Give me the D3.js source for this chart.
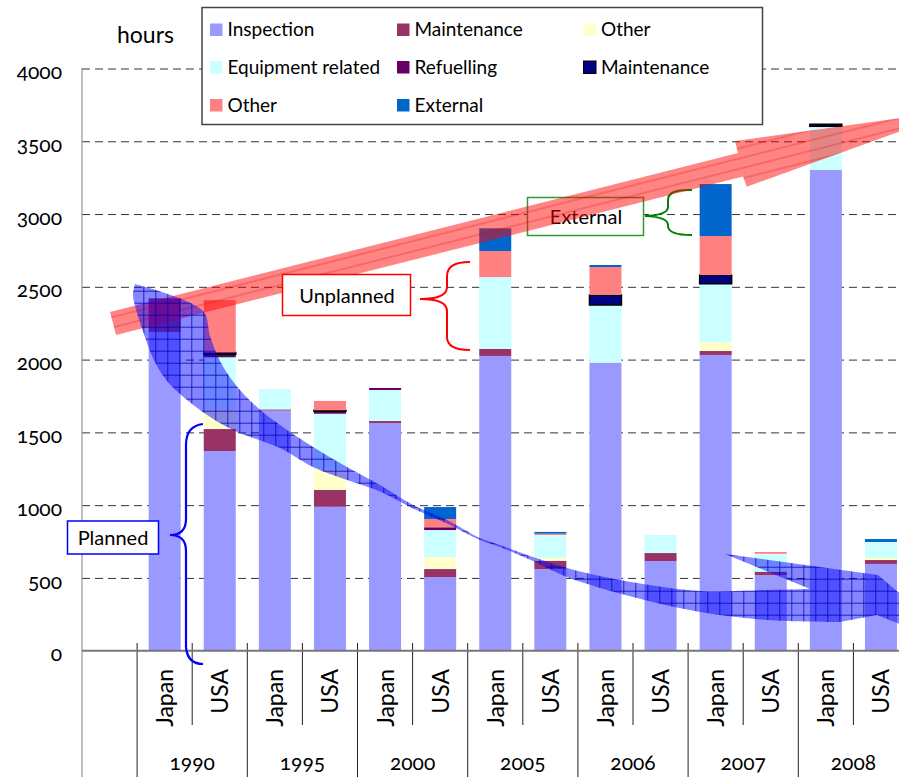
<!DOCTYPE html>
<html>
<head>
<meta charset="utf-8">
<script src="https://cdn.jsdelivr.net/npm/d3@7"></script>
<style>
  html, body { margin: 0; padding: 0; background: #fff; }
  svg { display: block; font-family: Lato, "Open Sans", "Noto Sans", sans-serif; font-variant-numeric: oldstyle-nums; }
</style>
</head>
<body>
<svg id="chart" width="899" height="777"></svg>
<script>
// ---- data -------------------------------------------------------------
const years = ["1990", "1995", "2000", "2005", "2006", "2007", "2008"];
const countries = ["Japan", "USA"];

// hours per outage, one value per (year, country) in the order above
const inspection      = [2190, 1372, 1650,  989, 1564, 506, 2025, 561, 1979, 616, 2032, 520, 3303, 596];
const maintPlanned    = [ 231,  151,    8,  115,   14,  55,   48,  57,    0,  55,   27,  23,    0,  27];
const otherPlanned    = [   0,  138,    0,  144,    0,  83,    0,  19,    0,   0,   62,   0,    0,  14];
const equipment       = [   0,  355,  140,  380,  213, 185,  494, 158,  396, 124,  400, 123,  300, 110];
const refuelling      = [   0,   20,    0,   17,   14,  19,    0,   0,    0,   0,    0,   0,    0,   0];
const maintUnplanned  = [   0,   13,    0,    7,    0,   0,    0,   0,   69,   0,   60,   0,   14,   0];
const otherUnplanned  = [   0,  360,    0,   64,    0,  57,  179,   9,  192,   0,  268,  12,    0,   0];
const external        = [   0,    0,    0,    0,    0,  82,  156,  12,   14,   0,  357,   0,    0,  20];

const yTicks = [0, 500, 1000, 1500, 2000, 2500, 3000, 3500, 4000];

// ---- series setup -----------------------------------------------------
const seriesDefs = [
  { key: "inspection",     label: "Inspection",        color: "#9999ff", values: inspection },
  { key: "maintPlanned",   label: "Maintenance",       color: "#993366", values: maintPlanned },
  { key: "otherPlanned",   label: "Other",             color: "#ffffcc", values: otherPlanned },
  { key: "equipment",      label: "Equipment related", color: "#ccffff", values: equipment },
  { key: "refuelling",     label: "Refuelling",        color: "#660066", values: refuelling },
  { key: "maintUnplanned", label: "Maintenance",       color: "#000080", values: maintUnplanned, outline: true },
  { key: "otherUnplanned", label: "Other",             color: "#ff8080", values: otherUnplanned },
  { key: "external",       label: "External",          color: "#0066cc", values: external }
];

const categories = [];
years.forEach(y => countries.forEach(c => categories.push({ id: y + "|" + c, year: y, country: c })));
const rows = categories.map((c, i) => {
  const r = { id: c.id };
  seriesDefs.forEach(s => { r[s.key] = s.values[i]; });
  return r;
});

// ---- scales ------------------------------------------------------------
const svg = d3.select("#chart");
const slotKeys = ["_blank"].concat(categories.map(c => c.id));
const x = d3.scaleBand().domain(slotKeys).range([82, 908.5]).paddingInner(0).paddingOuter(0);
const y = d3.scaleLinear().domain([0, 4000]).range([650.7, 68.5]);
const barW = 32;
const plotRight = 908.5;

// ---- grid --------------------------------------------------------------
const grid = svg.append("g").attr("transform", "translate(82,0)")
  .call(d3.axisLeft(y).tickValues(yTicks.filter(t => t > 0)).tickSize(-(plotRight - 82)).tickFormat(""));
grid.select(".domain").remove();
grid.selectAll(".tick line").attr("stroke", "#333").attr("stroke-width", 1).attr("stroke-dasharray", "8,5");

// y labels
const yLab = svg.append("g").attr("transform", "translate(82,0)")
  .call(d3.axisLeft(y).tickValues(yTicks).tickFormat(d3.format("d")).tickSize(0).tickPadding(20));
yLab.select(".domain").remove();
yLab.selectAll(".tick text").attr("font-size", 21).attr("font-family", "Lato, sans-serif")
  .attr("fill", "#000").attr("dy", "0.48em");

svg.append("text").attr("x", 117).attr("y", 43).attr("font-size", 23).attr("fill", "#000").text("hours");

// ---- bars --------------------------------------------------------------
const stacked = d3.stack().keys(seriesDefs.map(s => s.key))(rows);
const barLayer = svg.append("g");
stacked.forEach((layer, li) => {
  const def = seriesDefs[li];
  barLayer.append("g").selectAll("rect")
    .data(layer.filter(d => d[1] - d[0] > 0))
    .join("rect")
    .attr("x", d => x(d.data.id) + (x.bandwidth() - barW) / 2)
    .attr("width", barW)
    .attr("y", d => y(d[1]))
    .attr("height", d => y(d[0]) - y(d[1]))
    .attr("fill", def.color)
    .attr("stroke", def.outline ? "#000" : "none")
    .attr("stroke-width", def.outline ? 1.5 : 0);
});

// ---- category axis ----------------------------------------------------
const axisG = svg.append("g");
// separators between countries (short) and between years (long)
categories.forEach(c => {
  const left = x(c.id);
  const bottom = c.country === "USA" ? 725 : 777;
  axisG.append("line").attr("x1", left).attr("x2", left).attr("y1", 643).attr("y2", bottom)
    .attr("stroke", "#222").attr("stroke-width", 1);
});
axisG.append("line").attr("x1", plotRight).attr("x2", plotRight).attr("y1", 643).attr("y2", 777)
  .attr("stroke", "#222");
// y axis line
axisG.append("line").attr("x1", 82).attr("x2", 82).attr("y1", 68).attr("y2", 777)
  .attr("stroke", "#808080").attr("stroke-width", 1);
// baseline
axisG.append("line").attr("x1", 82).attr("x2", plotRight).attr("y1", y(0)).attr("y2", y(0))
  .attr("stroke", "#777").attr("stroke-width", 2);

// country labels
categories.forEach(c => {
  const cx = x(c.id) + x.bandwidth() / 2;
  axisG.append("text")
    .attr("transform", `translate(${cx + 8.5},669) rotate(-90)`)
    .attr("text-anchor", "end").attr("font-size", 23).attr("fill", "#000")
    .text(c.country);
});
// year labels
years.forEach(yr => {
  const cx = x(yr + "|USA");
  axisG.append("text").attr("x", cx).attr("y", 770).attr("text-anchor", "middle")
    .attr("font-size", 21).attr("fill", "#000").text(yr);
});

// ---- patterns for the trend arrows ----------------------------------
const defs = svg.append("defs");
const rp = defs.append("pattern").attr("id", "redFill").attr("patternUnits", "userSpaceOnUse")
  .attr("width", 400).attr("height", 10).attr("patternTransform", "rotate(-14.2)");
rp.append("rect").attr("width", 400).attr("height", 10).attr("fill", "#ff0000").attr("fill-opacity", 0.48);
rp.append("line").attr("x1", 0).attr("x2", 400).attr("y1", 5).attr("y2", 5)
  .attr("stroke", "#e00000").attr("stroke-opacity", 0.45).attr("stroke-width", 1);

const bp = defs.append("pattern").attr("id", "blueFill").attr("patternUnits", "userSpaceOnUse")
  .attr("x", 11.3).attr("y", 2.7).attr("width", 12).attr("height", 12);
bp.append("rect").attr("width", 12).attr("height", 12).attr("fill", "#0000ff").attr("fill-opacity", 0.48);
bp.append("path").attr("d", "M0,0.5H12M0.5,0V12").attr("stroke", "#0000b0")
  .attr("stroke-opacity", 0.75).attr("stroke-width", 1).attr("fill", "none");

// ---- "External" note (sits under the red arrow) -----------------------
const notes = svg.append("g");
notes.append("rect").attr("x", 527.5).attr("y", 197.5).attr("width", 116).attr("height", 38)
  .attr("fill", "#fff").attr("stroke", "#339933").attr("stroke-width", 1.5);
notes.append("text").attr("x", 586).attr("y", 224).attr("text-anchor", "middle")
  .attr("font-size", 20).attr("fill", "#000").text("External");
notes.append("path")
  .attr("d", "M692,190 Q668,189 668,200 L668,207 Q668,215 645,216 Q668,217 668,225 L668,226 Q668,235 692,235")
  .attr("fill", "none").attr("stroke", "#008000").attr("stroke-width", 2);

// ---- red arrow: rising total ------------------------------------------
svg.append("path")
  .attr("d", "M110,312 L738,153 L735,141 L959,110 L746.7,186.7 L743,176.5 L116,335 Z")
  .attr("fill", "url(#redFill)");

// ---- blue arrow: falling planned share --------------------------------
const upperEdge = [[135,284],[203,311],[210,336],[220,361],[235,384],[258,408],[280,425],[313,447],
  [347,467],[380,485],[413,505],[447,520],[480,538],[500,545],[533,557],[567,568],[620,580],
  [700,591],[767,590],[810,589]];
const headPts = [[725,554],[878,575],[898,592],[935,614],[905,626],[877,615],[840,622]];
const lowerEdge = [[840,622],[767,620],[700,612],[633,597],[567,577],[533,561],[500,547],[480,540],
  [447,523.5],[413,508.5],[380,491.5],[347,480],[313,467],[280,448],[233,430],[200,410],[167,381],
  [153,358],[145,337],[137,313],[133,295],[135,284]];
const smooth = d3.line().curve(d3.curveCatmullRom.alpha(0.5));
const blueD = smooth(upperEdge) + headPts.map(p => "L" + p[0] + "," + p[1]).join("") +
  smooth(lowerEdge).replace(/^M/, "L") + "Z";
svg.append("path").attr("d", blueD).attr("fill", "url(#blueFill)");

// ---- "Unplanned" note ------------------------------------------------
const un = svg.append("g");
un.append("rect").attr("x", 282.5).attr("y", 274.5).attr("width", 128).attr("height", 41)
  .attr("fill", "#fff").attr("stroke", "#ff0000").attr("stroke-width", 1.5);
un.append("text").attr("x", 347).attr("y", 303).attr("text-anchor", "middle")
  .attr("font-size", 20).attr("fill", "#000").text("Unplanned");
un.append("path")
  .attr("d", "M470,262 Q447,262 447,276 L447,287 Q447,299 420,299 Q447,299 447,311 L447,337 Q447,350 470,350")
  .attr("fill", "none").attr("stroke", "#ff0000").attr("stroke-width", 2);

// ---- "Planned" note -----------------------------------------------------
const pl = svg.append("g");
pl.append("rect").attr("x", 67.5).attr("y", 521).attr("width", 91).attr("height", 33)
  .attr("fill", "#fff").attr("stroke", "#0000ff").attr("stroke-width", 1.5);
pl.append("text").attr("x", 113).attr("y", 545).attr("text-anchor", "middle")
  .attr("font-size", 20).attr("fill", "#000").text("Planned");
pl.append("path")
  .attr("d", "M203,424 Q186,426 186,445 L186,519 Q186,535 170,535 Q186,535 186,551 L186,648 Q188,664 203,664")
  .attr("fill", "none").attr("stroke", "#0000ff").attr("stroke-width", 2.2);

// ---- legend ------------------------------------------------------------
const lg = svg.append("g");
lg.append("rect").attr("x", 202).attr("y", 7.5).attr("width", 560.5).attr("height", 117)
  .attr("fill", "#fff").attr("stroke", "#444").attr("stroke-width", 1.5);
const colX = [210, 397, 583.5];
const rowY = [36, 73.5, 111.5];
seriesDefs.forEach((s, i) => {
  const col = i % 3, row = Math.floor(i / 3);
  const item = lg.append("g").attr("transform", `translate(${colX[col]},${rowY[row]})`);
  item.append("rect").attr("x", 0).attr("y", -12.5).attr("width", 12.5).attr("height", 12.5)
    .attr("fill", s.color).attr("stroke", s.outline ? "#000" : "none").attr("stroke-width", 1);
  item.append("text").attr("x", 17.5).attr("y", 0).attr("font-size", 19).attr("fill", "#000").text(s.label);
});
</script>
</body>
</html>
